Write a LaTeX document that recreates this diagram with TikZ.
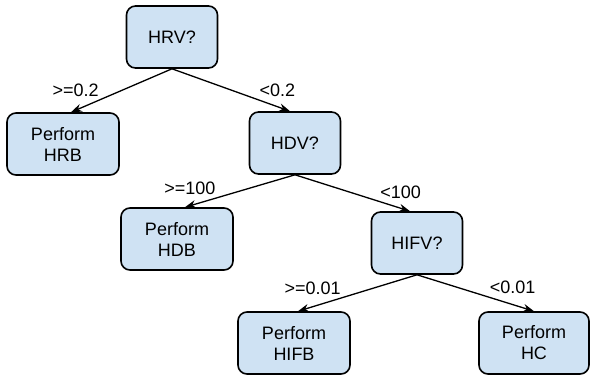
\documentclass[tikz,border=0pt]{standalone}
\usepackage{fontspec}
\setmainfont{Liberation Sans}
\usepackage{tikz}
\usetikzlibrary{arrows.meta}
\definecolor{boxblue}{RGB}{207,226,243}

\begin{document}
\begin{tikzpicture}[x=1pt, y=-1pt,
font=\fontsize{18}{21}\selectfont,
test/.style={draw, line width=1.6pt, fill=boxblue, rounded corners=9pt, align=center, minimum width=91pt, minimum height=62pt, inner sep=0pt},
act/.style={test, minimum width=112pt},
arc/.style={-{Stealth[length=11pt, width=8pt]}, line width=1.3pt},
lbl/.style={inner sep=2pt}
]
\useasboundingbox (0,0) rectangle (590,376);
% decision nodes
\node[test] (hrv) at (172,37) {HRV?};
\node[test] (hdv) at (295,143) {HDV?};
\node[test] (hifv) at (417,243) {HIFV?};
% leaves
\node[act] (hrb) at (63,144) {Perform\\HRB};
\node[act] (hdb) at (177,239) {Perform\\HDB};
\node[act] (hifb) at (294,343) {Perform\\HIFB};
\node[act, minimum width=110pt] (hc) at (534,343) {Perform\\HC};
% branches
\draw[arc] (hrv.south) -- node[lbl, pos=0.7, anchor=south east]{>=0.2} ([xshift=8pt]hrb.north);
\draw[arc] (hrv.south) -- node[lbl, pos=0.72, anchor=south west]{<0.2} ([xshift=-5pt]hdv.north);
\draw[arc] (hdv.south) -- node[lbl, pos=0.7, anchor=south east]{>=100} ([xshift=8pt]hdb.north);
\draw[arc] (hdv.south) -- node[lbl, pos=0.72, anchor=south west]{<100} ([xshift=-7pt]hifv.north);
\draw[arc] (hifv.south) -- node[lbl, pos=0.62, anchor=south east]{>=0.01} ([xshift=4pt]hifb.north);
\draw[arc] (hifv.south) -- node[lbl, pos=0.6, anchor=south west]{<0.01} (hc.north);
\end{tikzpicture}
\end{document}
